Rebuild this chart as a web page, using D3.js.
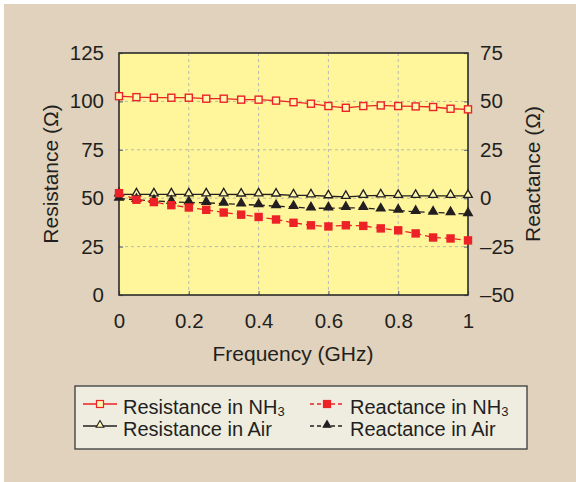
<!DOCTYPE html>
<html><head><meta charset="utf-8">
<script src="https://cdn.jsdelivr.net/npm/d3@7"></script>
<style>
html,body{margin:0;padding:0;background:#fff;}
svg{display:block;font-family:"Liberation Sans",Arial,sans-serif;}
</style></head>
<body>
<script>
const freq = [0,0.05,0.1,0.15,0.2,0.25,0.3,0.35,0.4,0.45,0.5,0.55,0.6,0.65,0.7,0.75,0.8,0.85,0.9,0.95,1.0];
const resNH3 = [102.7,102.2,101.9,101.9,101.9,101.4,101.4,100.9,100.9,100.4,99.6,98.8,97.6,96.7,97.6,97.9,97.6,97.4,97.1,96.2,95.9];
const resAir = [52,52,52,52,52,52,52,51.9,52,51.9,51.5,51.5,51,50.7,51.2,51.5,51.2,51.2,51.2,51.2,51.2];
const reaNH3 = [2.6,-0.8,-2.0,-3.6,-4.8,-6.0,-7.4,-8.5,-9.7,-11.0,-12.7,-14.0,-14.6,-14.0,-14.3,-15.6,-16.6,-18.2,-20.3,-20.8,-21.8];
const reaAir = [-0.2,-0.8,-1.4,-1.9,-2.2,-2.4,-2.8,-3.2,-3.6,-4.1,-4.5,-5.2,-5.2,-5.0,-5.0,-5.8,-6.4,-7.0,-7.4,-7.7,-8.2];
const xTicks = [0,0.2,0.4,0.6,0.8,1];
const leftTicks = [0,25,50,75,100,125];
const rightTicks = [-50,-25,0,25,50,75];
const fmtNum = d => d < 0 ? "\u2013" + Math.abs(d) : String(d);

const W = 576, H = 482;
const svg = d3.select("body").append("svg").attr("width", W).attr("height", H);
svg.append("rect").attr("width", W).attr("height", H).attr("fill", "#fff");
svg.append("rect").attr("x", 4).attr("y", 4).attr("width", W - 4).attr("height", H - 4).attr("fill", "#e0d2bc");

const L = 119, R = 468, T = 53, B = 295;
const x = d3.scaleLinear().domain([0, 1]).range([L, R]);
const yL = d3.scaleLinear().domain([0, 125]).range([B, T]);
const yR = d3.scaleLinear().domain([-50, 75]).range([B, T]);

svg.append("rect").attr("x", L).attr("y", T).attr("width", R - L).attr("height", B - T).attr("fill", "#fff59a");

// gridlines
const grid = svg.append("g").attr("stroke", "#b9b9b2").attr("stroke-width", 1).attr("stroke-dasharray", "3,3");
xTicks.slice(1, -1).forEach(t => grid.append("line").attr("x1", x(t)).attr("x2", x(t)).attr("y1", T).attr("y2", B));
leftTicks.slice(1, -1).forEach(t => grid.append("line").attr("x1", L).attr("x2", R).attr("y1", yL(t)).attr("y2", yL(t)));

// axes (inward ticks)
const axB = svg.append("g").attr("transform", `translate(0,${B})`)
  .call(d3.axisBottom(x).tickValues(xTicks).tickSize(-4).tickPadding(18).tickFormat(d => String(d)));
const axL = svg.append("g").attr("transform", `translate(${L},0)`)
  .call(d3.axisLeft(yL).tickValues(leftTicks).tickSize(-4).tickPadding(15).tickFormat(fmtNum));
const axR = svg.append("g").attr("transform", `translate(${R},0)`)
  .call(d3.axisRight(yR).tickValues(rightTicks).tickSize(-4).tickPadding(12).tickFormat(fmtNum));
[axB, axL, axR].forEach(a => {
  a.select(".domain").remove();
  a.selectAll(".tick line").attr("stroke", "#6a6f80").attr("stroke-width", 1.2);
  a.selectAll(".tick text").attr("font-size", 20.5).attr("fill", "#231f20").attr("font-family", "Liberation Sans, Arial, sans-serif");
});
axB.selectAll(".tick text").attr("dy", "0.71em");

// plot frame
svg.append("rect").attr("x", L).attr("y", T).attr("width", R - L).attr("height", B - T)
  .attr("fill", "none").attr("stroke", "#2b2b2b").attr("stroke-width", 1.6);

const RED = "#ec2227", BLK = "#231f20";
const lineL = d3.line().x((d, i) => x(freq[i])).y(d => yL(d));
const lineR = d3.line().x((d, i) => x(freq[i])).y(d => yR(d));
const tri = d3.symbol().type(d3.symbolTriangle).size(32);

const series = [
  {vals: resAir, line: lineL, sc: yL, color: BLK, dash: null, sym: "tri", fill: "#fff8b0"},
  {vals: reaAir, line: lineR, sc: yR, color: BLK, dash: "6,4", sym: "tri", fill: BLK},
  {vals: reaNH3, line: lineR, sc: yR, color: RED, dash: "6,4", sym: "sq", fill: RED},
  {vals: resNH3, line: lineL, sc: yL, color: RED, dash: null, sym: "sq", fill: "#fff8b0"},
];
series.forEach(s => {
  svg.append("path").datum(s.vals).attr("d", s.line).attr("fill", "none")
    .attr("stroke", s.color).attr("stroke-width", 1.3).attr("stroke-dasharray", s.dash);
  const g = svg.append("g");
  s.vals.forEach((v, i) => {
    if (s.sym === "sq") {
      g.append("rect").attr("x", x(freq[i]) - 3.5).attr("y", s.sc(v) - 3.5).attr("width", 7).attr("height", 7)
        .attr("fill", s.fill).attr("stroke", s.color).attr("stroke-width", 1.4);
    } else {
      g.append("path").attr("d", tri).attr("transform", `translate(${x(freq[i])},${s.sc(v) - 1})`)
        .attr("fill", s.fill).attr("stroke", s.color).attr("stroke-width", 1.3);
    }
  });
});

// axis titles
svg.append("text").attr("x", 293).attr("y", 361).attr("text-anchor", "middle").attr("font-size", 21).attr("fill", BLK).text("Frequency (GHz)");
svg.append("text").attr("transform", "translate(57.5,174) rotate(-90)").attr("text-anchor", "middle").attr("font-size", 21).attr("fill", BLK).text("Resistance (\u03A9)");
svg.append("text").attr("transform", "translate(540,174) rotate(-90)").attr("text-anchor", "middle").attr("font-size", 21).attr("fill", BLK).text("Reactance (\u03A9)");

// legend
svg.append("rect").attr("x", 75).attr("y", 386).attr("width", 452).attr("height", 63)
  .attr("fill", "#eeede0").attr("stroke", "#3a3a3a").attr("stroke-width", 1.3);
const legend = [
  {label: "Resistance in NH", sub: "3", col: 0, row: 0, color: RED, dash: null, sym: "sq", fill: "#fff8b0"},
  {label: "Reactance in NH", sub: "3", col: 1, row: 0, color: RED, dash: "4,3", sym: "sq", fill: RED},
  {label: "Resistance in Air", sub: "", col: 0, row: 1, color: BLK, dash: null, sym: "tri", fill: "#fff8b0"},
  {label: "Reactance in Air", sub: "", col: 1, row: 1, color: BLK, dash: "4,3", sym: "tri", fill: BLK},
];
const colX = [83, 310], rowY = [404, 426];
legend.forEach(l => {
  const x0 = colX[l.col], y0 = rowY[l.row];
  svg.append("line").attr("x1", x0).attr("x2", x0 + 34).attr("y1", y0).attr("y2", y0)
    .attr("stroke", l.color).attr("stroke-width", 1.3).attr("stroke-dasharray", l.dash);
  if (l.sym === "sq") {
    svg.append("rect").attr("x", x0 + 17 - 3.5).attr("y", y0 - 3.5).attr("width", 7).attr("height", 7)
      .attr("fill", l.fill).attr("stroke", l.color).attr("stroke-width", 1.2);
  } else {
    svg.append("path").attr("d", d3.symbol().type(d3.symbolTriangle).size(26)).attr("transform", `translate(${x0 + 17},${y0 - 1})`)
      .attr("fill", l.fill).attr("stroke", l.color).attr("stroke-width", 1.1);
  }
  const t = svg.append("text").attr("x", x0 + 40).attr("y", y0 + 9.5 + l.row * 0.5).attr("font-size", 20).attr("fill", BLK).text(l.label);
  if (l.sub) t.append("tspan").attr("font-size", 13).attr("dy", 2.5).text(l.sub);
});
</script>
</body></html>
